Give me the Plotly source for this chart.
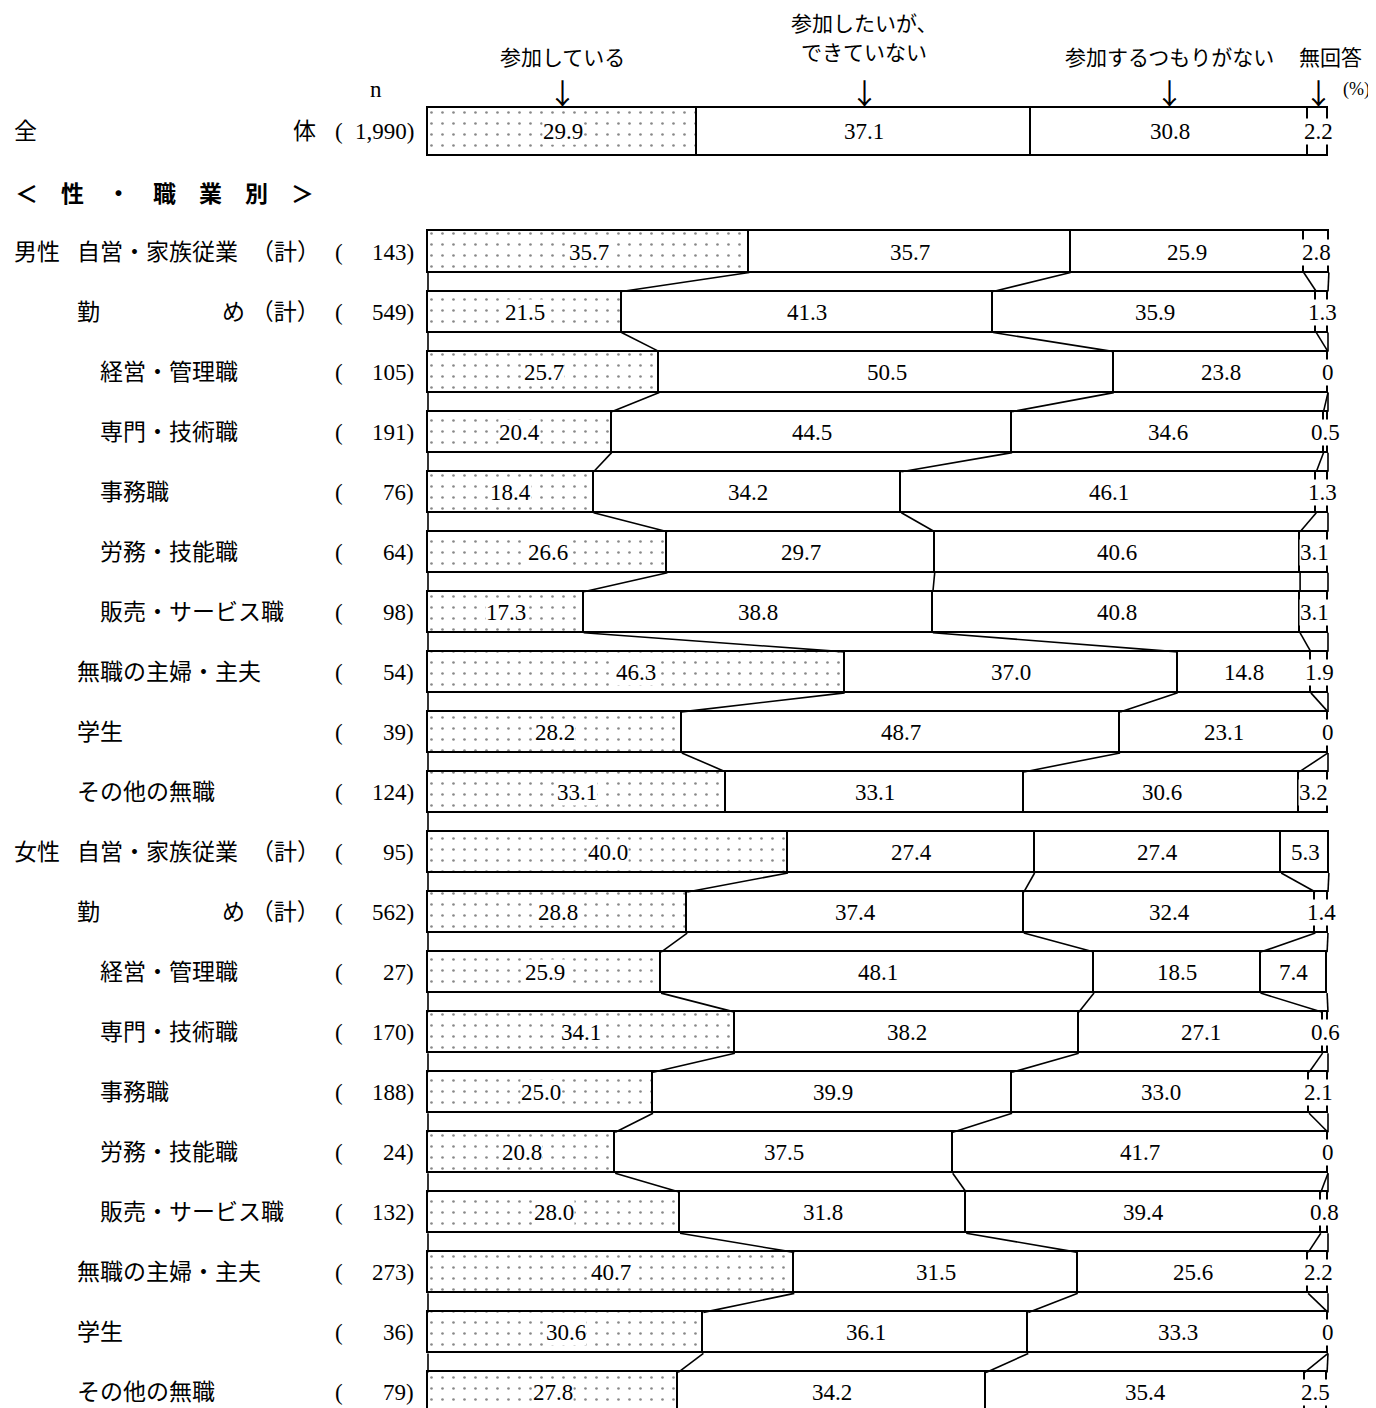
import plotly.graph_objects as go

# ---- data -------------------------------------------------------------
answers = ["参加している", "参加したいが、<br>できていない", "参加するつもりがない", "無回答"]

total_n = 1990
total_vals = [29.9, 37.1, 30.8, 2.2]

occupations = ["自営・家族従業（計）", "勤め（計）", "経営・管理職", "専門・技術職", "事務職",
               "労務・技能職", "販売・サービス職", "無職の主婦・主夫", "学生", "その他の無職"]
sexes = ["男性", "女性"]

male_n = [143, 549, 105, 191, 76, 64, 98, 54, 39, 124]
female_n = [95, 562, 27, 170, 188, 24, 132, 273, 36, 79]

male_sanka = [35.7, 21.5, 25.7, 20.4, 18.4, 26.6, 17.3, 46.3, 28.2, 33.1]
male_dekinai = [35.7, 41.3, 50.5, 44.5, 34.2, 29.7, 38.8, 37.0, 48.7, 33.1]
male_tsumori = [25.9, 35.9, 23.8, 34.6, 46.1, 40.6, 40.8, 14.8, 23.1, 30.6]
male_muka = [2.8, 1.3, 0, 0.5, 1.3, 3.1, 3.1, 1.9, 0, 3.2]

female_sanka = [40.0, 28.8, 25.9, 34.1, 25.0, 20.8, 28.0, 40.7, 30.6, 27.8]
female_dekinai = [27.4, 37.4, 48.1, 38.2, 39.9, 37.5, 31.8, 31.5, 36.1, 34.2]
female_tsumori = [27.4, 32.4, 18.5, 27.1, 33.0, 41.7, 39.4, 25.6, 33.3, 35.4]
female_muka = [5.3, 1.4, 7.4, 0.6, 2.1, 0, 0.8, 2.2, 0, 2.5]

# ---- layout helpers (page pixel -> axis units) ------------------------
W, H = 1376, 1408
M = 8                    # page body margin
X0, XS = 428, 9.0        # pixel of 0 %, pixels per %
Y0, YS = 252, 60.05      # pixel centre of first row, pixels per row


def px(p):
    return (p - X0) / XS


def py(p):
    return (p - Y0) / YS


JP = "Noto Sans CJK JP"
SERIF = "Liberation Serif, Noto Sans CJK JP"
sub_items = {"経営・管理職", "専門・技術職", "事務職", "労務・技能職", "販売・サービス職"}

series = [
    male_sanka + female_sanka,
    male_dekinai + female_dekinai,
    male_tsumori + female_tsumori,
    male_muka + female_muka,
]
all_n = male_n + female_n
rows = list(range(len(all_n)))
ROW_W = 0.683
TOT_W = 0.8
TOT_Y = -2

fig = go.Figure()

# bars
for k in range(4):
    if k == 0:
        marker = dict(color="white",
                      pattern=dict(shape=".", fgcolor="#111", bgcolor="white", size=11, solidity=0.045),
                      line=dict(color="black", width=1.6))
    else:
        marker = dict(color="white", line=dict(color="black", width=1.6))
    fig.add_trace(go.Bar(
        y=[TOT_Y] + rows,
        x=[total_vals[k]] + series[k],
        width=[TOT_W] + [ROW_W] * len(rows),
        orientation="h",
        marker=marker,
        showlegend=False,
        hoverinfo="skip",
    ))

# connecting lines between neighbouring bars inside each sex group
cums = []
for i in rows:
    c = [0]
    for k in range(4):
        c.append(c[-1] + series[k][i])
    cums.append(c)

cx, cy = [], []
for i in rows[:-1]:
    same_group = (i // 10) == ((i + 1) // 10)
    ks = range(5) if same_group else [0]
    for k in ks:
        cx += [cums[i][k], cums[i + 1][k], None]
        cy += [i + ROW_W / 2, i + 1 - ROW_W / 2, None]
fig.add_trace(go.Scatter(x=cx, y=cy, mode="lines", line=dict(color="black", width=1.6),
                         showlegend=False, hoverinfo="skip"))

ann = []

# value labels
num_font = dict(family=SERIF, size=23, color="black")
for k in range(4):
    start = sum(total_vals[:k])
    ann.append(dict(x=start + total_vals[k] / 2, y=TOT_Y, text=f"{total_vals[k]:.1f}", font=num_font))
    for i in rows:
        v = series[k][i]
        ann.append(dict(x=cums[i][k] + v / 2, y=i, text="0" if v == 0 else f"{v:.1f}", font=num_font))
for a in ann:
    a.update(showarrow=False, bgcolor="white", borderpad=0, xanchor="center", yanchor="middle")

lab = dict(showarrow=False, yanchor="middle", font=dict(family=SERIF, size=23, color="black"))

# total row labels
ann.append(dict(x=px(12), y=TOT_Y, text="全", xanchor="left", **lab))
ann.append(dict(x=px(318), y=TOT_Y, text="体", xanchor="right", **lab))
ann.append(dict(x=px(339), y=TOT_Y, text="(", xanchor="center", **lab))
ann.append(dict(x=px(416), y=TOT_Y, text=f"{total_n:,})", xanchor="right", **lab))
ann.append(dict(x=px(376), y=py(89), text="n", xanchor="center", **lab))

# section header
ann.append(dict(x=px(13), y=-1, text="<b>＜　性　・　職　業　別　＞</b>", xanchor="left",
                showarrow=False, yanchor="middle", font=dict(family=JP, size=23, color="black")))

# row labels
for i in rows:
    name = occupations[i % 10]
    if i % 10 == 0:
        ann.append(dict(x=px(12), y=i, text=sexes[i // 10], xanchor="left", **lab))
    left = px(98) if name in sub_items else px(75)
    if name.endswith("（計）"):
        base = name[:-3]
        if len(base) == 2:
            ann.append(dict(x=left, y=i, text=base[0], xanchor="left", **lab))
            ann.append(dict(x=px(322), y=i, text=base[1] + " （計）", xanchor="right", **lab))
        else:
            ann.append(dict(x=left, y=i, text=base, xanchor="left", **lab))
            ann.append(dict(x=px(322), y=i, text="（計）", xanchor="right", **lab))
    else:
        ann.append(dict(x=left, y=i, text=name, xanchor="left", **lab))
    ann.append(dict(x=px(339), y=i, text="(", xanchor="center", **lab))
    ann.append(dict(x=px(416), y=i, text=f"{all_n[i]})", xanchor="right", **lab))

# answer captions with arrows over the total bar
cap_font = dict(family=JP, size=21, color="black")
for k in range(4):
    mid = sum(total_vals[:k]) + total_vals[k] / 2
    tx = mid + (1.4 if k == 3 else 0)
    lines = answers[k].split("<br>")
    if len(lines) == 2:
        ann.append(dict(x=tx, y=py(22), text=lines[0], font=cap_font))
        ann.append(dict(x=tx, y=py(51), text=lines[1], font=cap_font))
    else:
        ann.append(dict(x=tx, y=py(56), text=lines[0], font=cap_font))
    ann.append(dict(x=mid, y=py(92), text="↓", font=dict(family=JP, size=29, color="black")))
ann.append(dict(x=px(1356), y=py(89), text="(%)", font=dict(family=SERIF, size=18, color="black")))
for a in ann:
    a.setdefault("showarrow", False)
    a.setdefault("xanchor", "center")
    a.setdefault("yanchor", "middle")

fig.update_layout(
    width=W - M, height=H - M,
    margin=dict(l=0, r=0, t=0, b=0),
    paper_bgcolor="white", plot_bgcolor="white",
    barmode="stack", bargap=0,
    xaxis=dict(range=[px(M), px(W)], visible=False, fixedrange=True),
    yaxis=dict(range=[py(H), py(M)], visible=False, fixedrange=True),
    annotations=ann,
    showlegend=False,
)

fig.write_html("out.html")
